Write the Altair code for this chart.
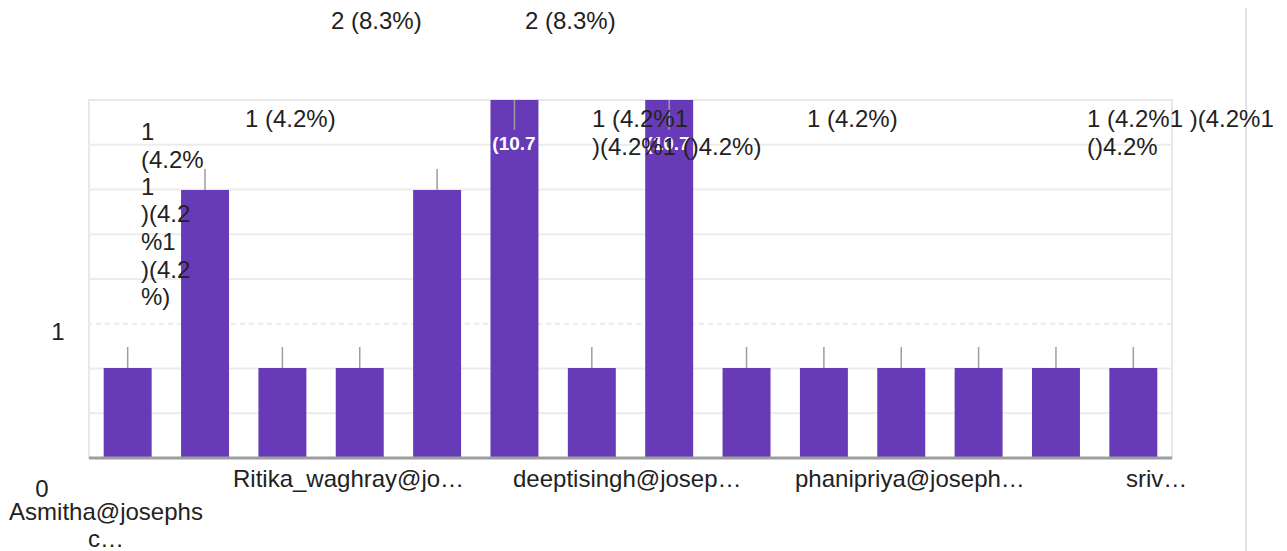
import altair as alt
import pandas as pd

# ---- data ----
names = ["Asmitha@josephsc…", "resp_02", "resp_03", "Ritika_waghray@jo…", "resp_05", "resp_06",
         "deeptisingh@josep…", "resp_08", "resp_09", "resp_10", "phanipriya@joseph…", "resp_12",
         "resp_13", "sriv…"]
counts = [1, 2, 1, 1, 2, 3, 1, 3, 1, 1, 1, 1, 1, 1]
grid_levels = [1, 2, 3, 4, 5, 6, 7]

# ---- style ----
W, H = 1083, 358
FONT = "Liberation Sans"
FS = 24
PURPLE = "#673ab7"
TEXT = "#222222"
TICK = "#9e9e9e"

df = pd.DataFrame({"name": names, "count": counts})
xscale = alt.Scale(domain=names, paddingInner=0.38, paddingOuter=0.19)
yscale = alt.Scale(domain=[0, 1, 2, 3], range=[H, 268, 90, -80], nice=False, zero=False)
gscale = alt.Scale(domain=[0, 8], nice=False)

X = alt.X("name:N", scale=xscale, axis=None, sort=None)

grid = alt.Chart(pd.DataFrame({"level": grid_levels})).mark_rule(size=2).encode(
    y=alt.Y("level:Q", scale=gscale, axis=None),
    color=alt.value("#ececec"),
    strokeDash=alt.condition("datum.level == 3", alt.value([5, 4]), alt.value([1, 0])),
)

bars = alt.Chart(df).mark_bar(color=PURPLE, clip=True).encode(
    x=X, y=alt.Y("count:Q", scale=yscale, axis=None)
)

ticks = alt.Chart(df).transform_filter("datum.count < 3").mark_rule(
    color=TICK, size=1.5, y2Offset=-21
).encode(x=X, y=alt.Y("count:Q", scale=yscale, axis=None), y2="count:Q")

ticks_top = alt.Chart(df).transform_filter("datum.count >= 3").mark_rule(
    color=TICK, size=1.5
).encode(x=X, y=alt.value(0), y2=alt.value(30))

baseline = alt.Chart(pd.DataFrame({"a": [0]})).mark_rule(color="#9e9e9e", size=3).encode(
    y=alt.Y(datum=0, scale=gscale, axis=None)
)

edge = alt.Chart(pd.DataFrame({"a": [0]})).mark_rule(color="#e2e2ea", size=2).encode(
    x=alt.value(1157), y=alt.value(-100), y2=alt.value(460)
)

# glitchy data labels and axis texts, as rendered in the source
annotations = [
    ("2 (8.3%)", 242, -78, "left"),
    ("2 (8.3%)", 436, -78, "left"),
    ("1 (4.2%)", 156, 20, "left"),
    ("1", 52, 33, "left"),
    ("(4.2%", 52, 61, "left"),
    ("1", 52, 88, "left"),
    (")(4.2", 52, 115, "left"),
    ("%1", 52, 143, "left"),
    (")(4.2", 52, 171, "left"),
    ("%)", 52, 198, "left"),
    ("1 (4.2%1", 503, 20, "left"),
    (")(4.2%1 ()4.2%)", 503, 48, "left"),
    ("1 (4.2%)", 718, 20, "left"),
    ("1 (4.2%1 )(4.2%1", 998, 20, "left"),
    ("()4.2%", 998, 48, "left"),
    ("1", -31, 233, "center"),
    ("0", -47, 390, "center"),
    ("Asmitha@josephs", 17, 413, "center"),
    ("c…", 17, 440, "center"),
    ("Ritika_waghray@jo…", 144, 380, "left"),
    ("deeptisingh@josep…", 424, 380, "left"),
    ("phanipriya@joseph…", 706, 380, "left"),
    ("sriv…", 1037, 380, "left"),
]

white_labels = [("(10.7", 425), ("(10.7", 579)]

layers = [grid, bars, ticks, ticks_top, baseline, edge]
for txt, x in white_labels:
    layers.append(
        alt.Chart(pd.DataFrame({"t": [txt]})).mark_text(
            font=FONT, fontSize=19, fontWeight="bold", color="white", align="center", baseline="middle"
        ).encode(text="t:N", x=alt.value(x), y=alt.value(44))
    )
for txt, x, y, al in annotations:
    layers.append(
        alt.Chart(pd.DataFrame({"t": [txt]})).mark_text(
            font=FONT, fontSize=FS, color=TEXT, align=al, baseline="middle"
        ).encode(text="t:N", x=alt.value(x), y=alt.value(y))
    )

chart = alt.layer(*layers).resolve_scale(y="independent").properties(
    width=W, height=H,
    autosize=alt.AutoSizeParams(type="none"),
    padding={"left": 81, "top": 92, "right": 107, "bottom": 95},
    background="white",
).configure_view(stroke="#e8e8e8", strokeWidth=2)

chart.save("out.html", embed_options={"renderer": "svg", "actions": False})
